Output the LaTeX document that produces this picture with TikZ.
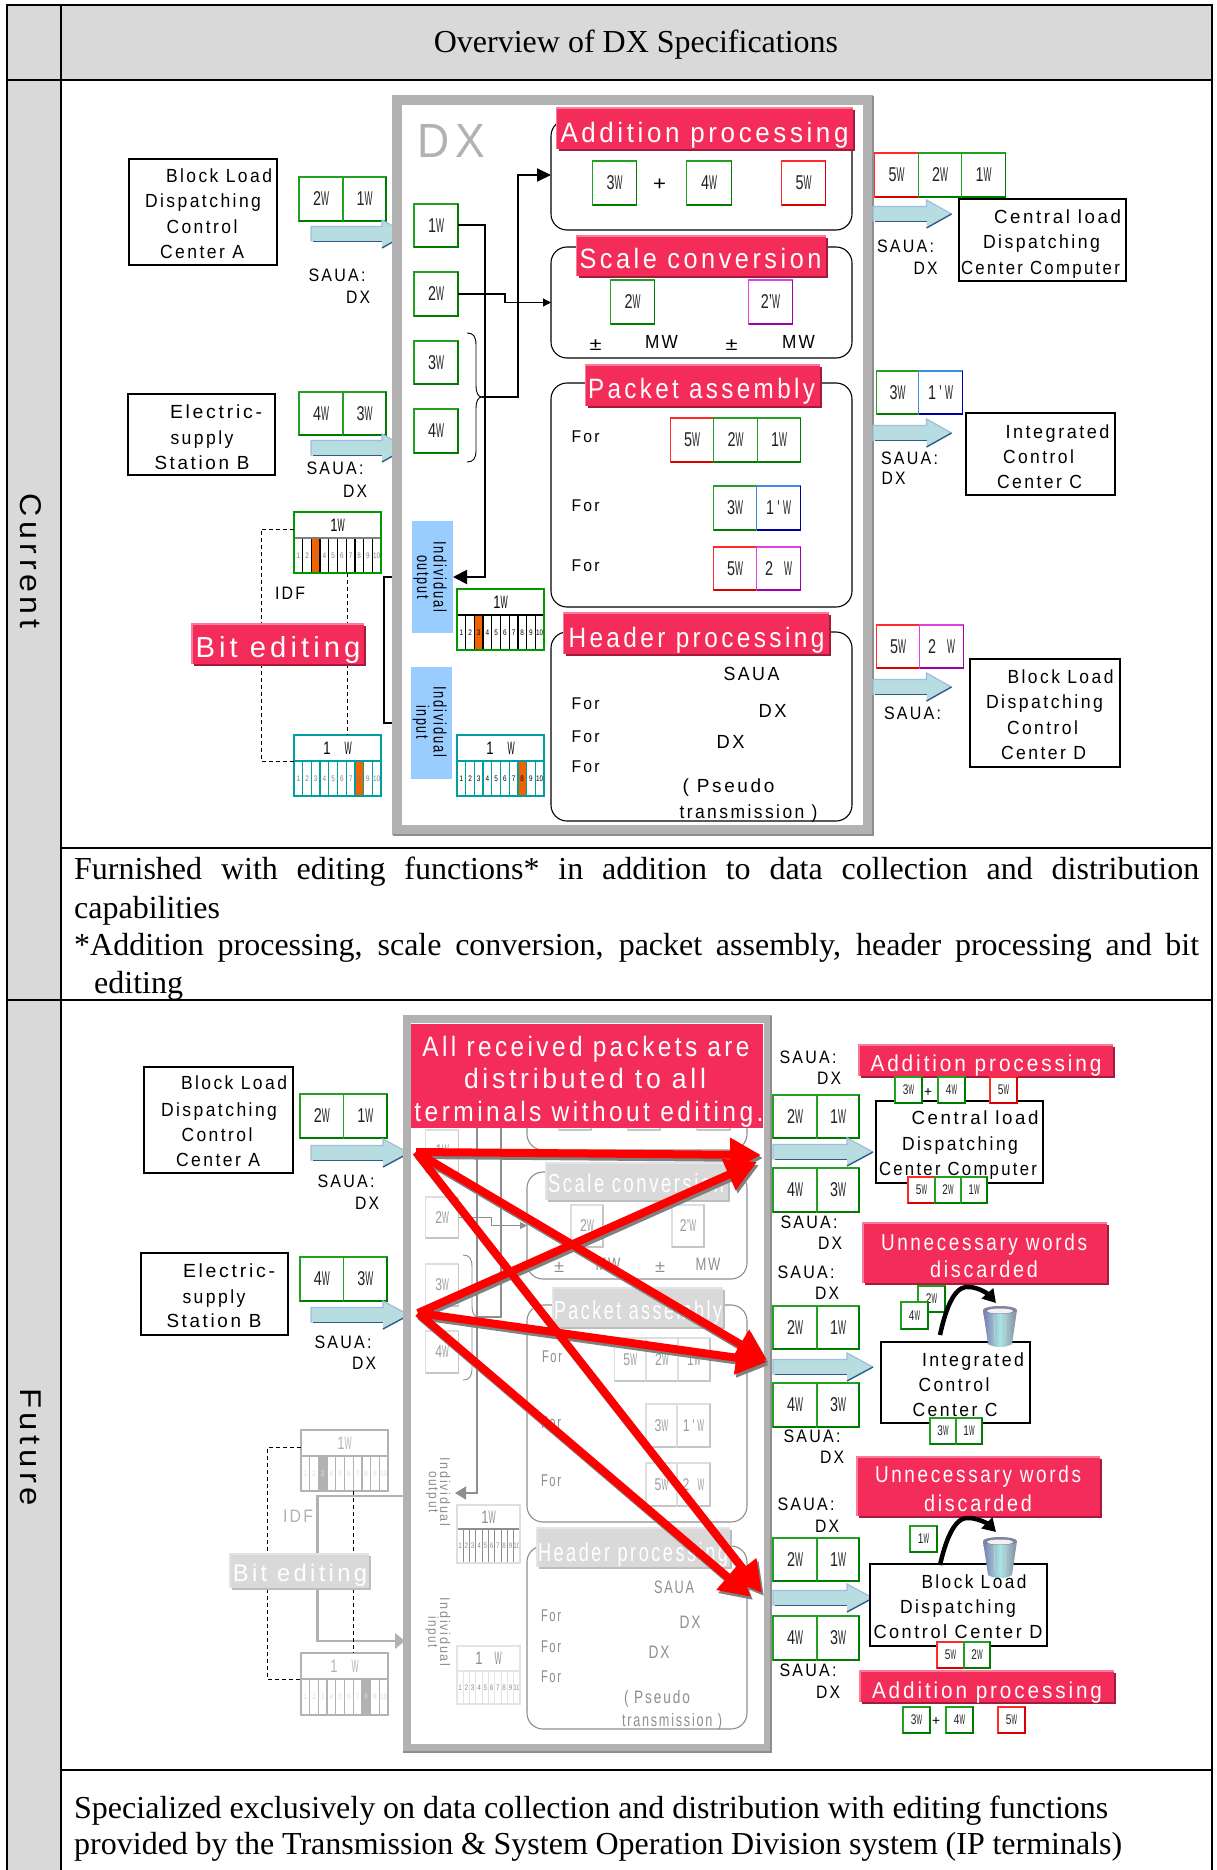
\documentclass[tikz,border=0pt]{standalone}
\usepackage{fontspec}
\setmainfont{Liberation Serif}
\newfontfamily\lsf[LetterSpace=14]{Liberation Sans}
\newfontfamily\lsn{Liberation Sans}
\usetikzlibrary{arrows.meta,calc}
\definecolor{cellG}{HTML}{D9D9D9}
\definecolor{frameG}{HTML}{B2B2B2}
\definecolor{frameD}{HTML}{8E8E8E}
\definecolor{redF}{HTML}{F32C5A}\definecolor{redL}{HTML}{F97C9A}\definecolor{redD}{HTML}{A31A3D}
\definecolor{gyF}{HTML}{D9D9D9}\definecolor{gyL}{HTML}{E4E4E4}\definecolor{gyD}{HTML}{BDBDBD}
\definecolor{gnL}{HTML}{22A022}\definecolor{gnD}{HTML}{007A00}\definecolor{gnT}{HTML}{222222}
\definecolor{rdL}{HTML}{FF2A2A}\definecolor{rdD}{HTML}{D80000}\definecolor{rdT}{HTML}{222222}
\definecolor{mgL}{HTML}{E040E0}\definecolor{mgD}{HTML}{A000A8}\definecolor{mgT}{HTML}{222222}
\definecolor{blL}{HTML}{3C8CE0}\definecolor{blD}{HTML}{00009A}\definecolor{blT}{HTML}{222222}
\definecolor{ghL}{HTML}{DEDEDE}\definecolor{ghD}{HTML}{C6C6C6}\definecolor{ghT}{HTML}{9C9C9C}
\definecolor{ghostT}{HTML}{8E8E8E}
\definecolor{arrF}{HTML}{B7DDE0}\definecolor{arrT}{HTML}{A0BCDC}\definecolor{arrB}{HTML}{2F5A8A}
\definecolor{indB}{HTML}{99CCFF}
\definecolor{orng}{HTML}{F26300}
\definecolor{teal2}{HTML}{009E9E}
\definecolor{grn2}{HTML}{009A00}
\definecolor{capred}{HTML}{FF0000}
\newcounter{nid}
\newcommand{\wl}[1]{\scalebox{.72}[1]{#1}\scalebox{.42}[1]{W}}
\newcommand{\wg}[2]{\scalebox{.72}[1]{#1}\hspace{#2pt}\scalebox{.42}[1]{W}}
\newcommand{\wq}[1]{\scalebox{.72}[1]{#1}\,\scalebox{.6}[1]{'}\,\scalebox{.42}[1]{W}}
% text line: [colour]{cx}{cy}{width}{size}{text}
\newcommand{\tx}[6][black]{\stepcounter{nid}\pgfmathsetmacro{\by}{#3+0.36*#5}%
 \node[anchor=base,inner sep=0pt,text=#1] (t\thenid) at (#2,\by) {\resizebox{#4pt}{\height}{\lsf\fontsize{#5pt}{#5pt}\selectfont #6}};}
% rotated text line
\newcommand{\rtx}[6][black]{\stepcounter{nid}%
 \node[rotate=-90,inner sep=0pt,text=#1] (q\thenid) at (#2,#3) {\resizebox{#4pt}{\height}{\lsf\fontsize{#5pt}{#5pt}\selectfont #6}};}
% rectangle node: [name]{x1}{y1}{x2}{y2}{style}
\newcommand{\rc}[6][]{\def\tmpn{#1}\ifx\tmpn\empty\stepcounter{nid}\edef\tmpn{r\thenid}\fi
 \pgfmathsetmacro{\rw}{#4-#2}\pgfmathsetmacro{\rh}{#5-#3}\pgfmathsetmacro{\rcx}{(#4+#2)/2}\pgfmathsetmacro{\rcy}{(#5+#3)/2}%
 \node[minimum width=\rw pt,minimum height=\rh pt,inner sep=0pt,outer sep=0pt,#6] (\tmpn) at (\rcx,\rcy) {};}
% word box: [name]{x1}{y1}{x2}{y2}{col}{label}
\def\wfs{20}
\newcommand{\wb}[7][]{\def\tmpn{#1}\ifx\tmpn\empty\stepcounter{nid}\edef\tmpn{w\thenid}\fi
 \pgfmathsetmacro{\rw}{#4-#2}\pgfmathsetmacro{\rh}{#5-#3}\pgfmathsetmacro{\rcx}{(#4+#2)/2}\pgfmathsetmacro{\rcy}{(#5+#3)/2}%
 \node[draw=#6L,line width=1.4pt,fill=white,minimum width=\rw pt,minimum height=\rh pt,inner sep=0pt,outer sep=0pt,text=#6T,font={\lsn\fontsize{\wfs pt}{\wfs pt}\selectfont}] (\tmpn) at (\rcx,\rcy) {#7};
 \draw[#6D,line width=1.7pt] (\tmpn.south west) -- (\tmpn.south east) -- (\tmpn.north east);}
% label band: {x1}{y1}{x2}{y2}{palette}
\newcommand{\rl}[5]{\fill[#5D] ($(#1,#2)+(2,2)$) rectangle ($(#3,#4)+(2,2)$);
 \rc{#1}{#2}{#3}{#4}{fill=#5F}
 \draw[#5L,line width=1.6pt] (#1,#4) -- (#1,#2) -- (#3,#2);}
% block arrow {x1}{xh}{xt}{yc}
\newcommand{\ba}[4]{\fill[arrF] ($(#1,#4)+(0,-7.5)$) -- ($(#2,#4)+(0,-7.5)$) -- ($(#2,#4)+(0,-14)$) -- (#3,#4) -- ($(#2,#4)+(0,14)$) -- ($(#2,#4)+(0,7.5)$) -- ($(#1,#4)+(0,7.5)$) -- cycle;
 \draw[arrT,line width=1.2pt] ($(#1,#4)+(0,7.5)$) -- ($(#1,#4)+(0,-7.5)$) -- ($(#2,#4)+(0,-7.5)$) -- ($(#2,#4)+(0,-14)$) -- (#3,#4);
 \draw[arrB,line width=1.2pt] ($(#1,#4)+(2,7.5)$) -- ($(#2,#4)+(0,7.5)$);
 \draw[arrB,line width=1.4pt] (#3,#4) -- ($(#2,#4)+(0,14)$);}
% brace {x}{y1}{ym}{y2}
\newcommand{\brc}[5][black]{\draw[#1,line width=.9pt] ($(#2,#3)$) .. controls ($(#2,#3)+(6,0)$) and ($(#2,#3)+(9,3)$) .. ($(#2,#3)+(9,12)$) -- ($(#2,#4)+(9,-12)$) .. controls ($(#2,#4)+(9,-4)$) and ($(#2,#4)+(11,0)$) .. ($(#2,#4)+(15,0)$) .. controls ($(#2,#4)+(11,0)$) and ($(#2,#4)+(9,4)$) .. ($(#2,#4)+(9,12)$) -- ($(#2,#5)+(9,-12)$) .. controls ($(#2,#5)+(9,-3)$) and ($(#2,#5)+(6,0)$) .. ($(#2,#5)$);}
% grid: settings then [name]{x1}{y1}{x2}{ydiv}{y2}{cell}{label}
\def\gB{grn2}\def\gBw{2.4}\def\gD{black}\def\gDw{1.3}\def\gHL{orng}\def\gN{gray}\def\gT{black}\def\gHd{black}
\newcommand{\grid}[8][]{\pgfmathsetmacro{\cw}{(#4-#2)/10}\pgfmathsetmacro{\hx}{#2+(#7-1)*\cw}\pgfmathsetmacro{\hxb}{\hx+\cw}%
 \rc[#1]{#2}{#3}{#4}{#6}{fill=white}
 \fill[\gHL] (\hx,#5) rectangle (\hxb,#6);
 \foreach \ii in {1,...,10} {\pgfmathsetmacro{\nx}{#2+(\ii-.5)*\cw}\stepcounter{nid}
   \node[inner sep=0pt,text=\gN,font={\lsn\fontsize{8pt}{8pt}\selectfont}] (g\thenid) at (\nx,{(#5+#6)/2}) {\scalebox{.8}[1]{\ii}};}
 \foreach \ii in {1,...,9} {\pgfmathsetmacro{\nx}{#2+\ii*\cw}\draw[\gD,line width=\gDw pt] (\nx,#5) -- (\nx,#6);}
 \draw[\gHd,line width=1.2pt] (#2,#5) -- (#4,#5);
 \draw[\gB,line width=\gBw pt] (#2,#3) rectangle (#4,#6);
 \stepcounter{nid}\node[inner sep=0pt,text=\gT,font={\lsn\fontsize{18pt}{18pt}\selectfont}] (h\thenid) at ({(#2+#4)/2},{(#3+#5)/2}) {#8};}
\newcommand{\trash}[2]{\shade[left color=white!45!blue!35!gray,right color=white!65!blue!25!gray,middle color=white!70!cyan!80!gray] ($(#1,#2)+(-17,-17)$) -- ($(#1,#2)+(17,-17)$) -- ($(#1,#2)+(12,17)$) .. controls ($(#1,#2)+(6,21)$) and ($(#1,#2)+(-6,21)$) .. ($(#1,#2)+(-12,17)$) -- cycle;
 \fill[white!55!blue!25!gray] ($(#1,#2)+(0,-17)$) ellipse (17pt and 4pt);
 \fill[white!90!gray] ($(#1,#2)+(0,-16)$) ellipse (13pt and 2.5pt);
 \draw[white!60!gray,line width=.8pt] ($(#1,#2)+(-6,-12)$) -- ($(#1,#2)+(-5,15)$) ($(#1,#2)+(6,-12)$) -- ($(#1,#2)+(5,15)$);}
\tikzset{
 thkline/.style={line width=2pt,black},
 boxk/.style={draw=black,line width=2pt,fill=white},
 roundb/.style={draw=#1,line width=1.1pt,rounded corners=16pt},
 redarr/.style={line width=8pt,capred,-{Triangle[length=31pt,width=32pt]}},
 redshd/.style={line width=8pt,gray,-{Triangle[length=31pt,width=32pt]}}
}
\begin{document}
\begin{tikzpicture}[x=1pt,y=-1pt]
\useasboundingbox (0,0) rectangle (1217,1870);
\fill[white] (0,0) rectangle (1217,1870);
% table
\fill[cellG] (7,5) rectangle (1212,80);
\fill[cellG] (7,5) rectangle (61,1870);
\draw[black,line width=1.3pt] (7,1870) -- (7,5) -- (1212,5) -- (1212,1870);
\draw[black,line width=1.3pt] (61,5) -- (61,1870);
\draw[black,line width=1.3pt] (7,80) -- (1212,80);
\draw[black,line width=1.3pt] (61,848) -- (1212,848);
\draw[black,line width=1.3pt] (7,1000) -- (1212,1000);
\draw[black,line width=1.3pt] (61,1770) -- (1212,1770);
\node[inner sep=0pt,anchor=base] (title) at (636,53) {\fontsize{32pt}{32pt}\selectfont Overview of DX Specifications};
\node[rotate=-90,inner sep=0pt] (curr) at (31,561) {\resizebox{134pt}{\height}{\lsf\fontsize{30pt}{30pt}\selectfont Current}};
\node[rotate=-90,inner sep=0pt] (futu) at (31,1447) {\resizebox{118pt}{\height}{\lsf\fontsize{30pt}{30pt}\selectfont Future}};
\node[anchor=base west,inner sep=0pt] (cl1) at (74,879) {\fontsize{32pt}{32pt}\selectfont\makebox[1125pt][s]{Furnished with editing functions* in addition to data collection and distribution}};
\node[anchor=base west,inner sep=0pt] (cl2) at (74,918) {\fontsize{32pt}{32pt}\selectfont capabilities};
\node[anchor=base west,inner sep=0pt] (cl3) at (74,955) {\fontsize{32pt}{32pt}\selectfont\makebox[1125pt][s]{*Addition processing, scale conversion, packet assembly, header processing and bit}};
\node[anchor=base west,inner sep=0pt] (cl4) at (94,993) {\fontsize{32pt}{32pt}\selectfont editing};
\node[anchor=base west,inner sep=0pt] (fl1) at (74,1818) {\fontsize{32pt}{32pt}\selectfont\makebox[1034pt][s]{Specialized exclusively on data collection and distribution with editing functions}};
\node[anchor=base west,inner sep=0pt] (fl2) at (74,1854) {\fontsize{32pt}{32pt}\selectfont\makebox[1048pt][s]{provided by the Transmission \& System Operation Division system (IP terminals)}};
%% ======= CURRENT =======
\rc[cA]{129}{159}{277}{265}{boxk}
\tx{219}{176}{106}{19}{Block Load}\tx{203}{201}{116}{19}{Dispatching}\tx{202}{227}{71}{19}{Control}\tx{202}{252}{84}{19}{Center A}
\wb{299}{177}{343}{221}{gn}{\wl{2}}\wb{343}{177}{386}{221}{gn}{\wl{1}}
\ba{311}{382}{407}{234}
\tx{337}{275}{57}{18}{SAUA:}\tx{358}{297}{24}{18}{DX}
\rc[cB]{128}{394}{275}{475}{boxk}
\tx{216}{412}{92}{19}{Electric-}\tx{202}{438}{63}{19}{supply}\tx{202}{463}{95}{19}{Station B}
\wb{299}{392}{343}{435}{gn}{\wl{4}}\wb{343}{392}{386}{435}{gn}{\wl{3}}
\ba{311}{382}{407}{448}
\tx{335}{468}{57}{18}{SAUA:}\tx{355}{491}{24}{18}{DX}
% bracket behind frame
\coordinate (brT) at (397,577);\coordinate (brB) at (397,723);
\draw[thkline] (brT) -- ++(-13,0) |- (brB);
% bit editing outside
\coordinate (d1a) at (261,529);\coordinate (d1b) at (261,761);
\def\gB{grn2}\def\gD{black}\def\gHd{gray}\def\gN{gray}\def\gT{black}
\grid[cgO]{294}{512}{381}{538}{573}{3}{\wl{1}}
\def\gB{teal2}\def\gD{teal2}\def\gHd{teal2}
\grid[cgI]{294}{735}{381}{761}{796}{8}{\wg{1}{14}}
\draw[black,line width=1pt,dash pattern=on 4pt off 3pt] (cgO.west |- d1a) -- (d1a) -- (d1b) -- (cgI.west |- d1b);
\draw[black,line width=1pt,dash pattern=on 4pt off 3pt] (347,573) -- (347,735);
\tx{290}{593}{30}{18}{IDF}
\rl{192}{624}{364}{664}{red}
\tx[white]{278}{647}{165}{29}{Bit editing}
% frame
\rc[cFr]{397}{100}{868}{830}{draw=frameG,line width=10pt,fill=white}
\draw[frameD,line width=1.5pt] (393,835) -- (873,835) -- (873,96);
\tx[frameG]{451}{140}{68}{48}{DX}
\def\wfs{20}
\wb[c1w]{414}{204}{458}{247}{gn}{\wl{1}}
\wb[c2w]{414}{272}{458}{316}{gn}{\wl{2}}
\wb[c3w]{414}{341}{458}{384}{gn}{\wl{3}}
\wb[c4w]{414}{409}{458}{453}{gn}{\wl{4}}
\rc[cAdd]{551}{120}{852}{230}{roundb=black}
\rc[cSca]{551}{247}{852}{358}{roundb=black}
\rc[cPak]{551}{383}{852}{607}{roundb=black}
\rc[cHdr]{551}{632}{852}{821}{roundb=black}
\rc[cio]{412}{521}{453}{633}{fill=indB}
\rc[cii]{411}{667}{452}{779}{fill=indB}
\rtx{440}{577}{71}{18}{Individual}\rtx{421}{577}{44}{18}{output}
\rtx{440}{722}{71}{18}{Individual}\rtx{421}{722}{34}{18}{input}
\brc{467}{333}{397}{462}
\coordinate (cbrTip) at (482,397);
\draw[thkline,-{Triangle[length=14pt,width=13pt]}] (cbrTip) -- ++(36,0) |- (cAdd.west);
\draw[black,line width=1.1pt,-{Triangle[length=8pt,width=8pt]}] (c2w.east) -- ++(47,0) |- (cSca.west);
\draw[thkline,-{Triangle[length=14pt,width=14pt]}] (c1w.east) -- ++(27,0) |- (cio.east);
\def\gB{grn2}\def\gD{black}\def\gHd{black}\def\gN{black}
\grid[cgO2]{457}{589}{544}{615}{650}{3}{\wl{1}}
\def\gB{teal2}\def\gD{teal2}\def\gHd{teal2}
\grid[cgI2]{457}{735}{544}{761}{796}{8}{\wg{1}{14}}
\begin{scope}[xshift=-1.5pt]
% Addition
\rl{558}{108}{854}{149}{red}\tx[white]{706}{132}{288}{28}{Addition processing}
\wb{594}{161}{638}{205}{gn}{\wl{3}}\tx{661}{183}{13}{20}{+}\wb{688}{161}{733}{205}{gn}{\wl{4}}\wb{783}{161}{827}{205}{rd}{\wl{5}}
% Scale
\rl{578}{236}{827}{276}{red}\tx[white]{702}{258}{242}{28}{Scale conversion}
\wb{612}{280}{656}{324}{gn}{\wl{2}}\wb{750}{280}{794}{324}{mg}{\scalebox{.72}[1]{2’}\scalebox{.42}[1]{W}}
\tx{597}{344}{12}{18}{±}\tx{663}{342}{33}{19}{MW}\tx{733}{344}{12}{18}{±}\tx{800}{342}{33}{19}{MW}
% Packet
\rl{587}{365}{821}{406}{red}\tx[white]{703}{388}{227}{28}{Packet assembly}
\tx{587}{436}{28}{17}{For}
\wb{672}{418}{715}{462}{rd}{\wl{5}}\wb{715}{418}{759}{462}{gn}{\wl{2}}\wb{759}{418}{802}{462}{gn}{\wl{1}}
\tx{587}{505}{28}{17}{For}
\wb{715}{486}{758}{530}{gn}{\wl{3}}\wb{758}{486}{802}{530}{bl}{\wq{1}}
\tx{587}{565}{28}{17}{For}
\wb{715}{547}{758}{590}{rd}{\wl{5}}\wb{758}{547}{802}{590}{mg}{\wg{2}{11}}
% Header
\rl{565}{613}{830}{654}{red}\tx[white]{698}{637}{256}{28}{Header processing}
\tx{753}{674}{56}{19}{SAUA}\tx{587}{703}{28}{17}{For}\tx{774}{711}{28}{19}{DX}\tx{587}{736}{28}{17}{For}\tx{732}{742}{28}{19}{DX}\tx{587}{766}{28}{17}{For}
\tx{730}{786}{92}{19}{( Pseudo}\tx{750}{812}{138}{19}{transmission )}
\end{scope}
% right
\begin{scope}[xshift=-2.5pt]
\wb{877}{153}{921}{197}{rd}{\wl{5}}\wb{921}{153}{964}{197}{gn}{\wl{2}}\wb{964}{153}{1008}{197}{gn}{\wl{1}}
\ba{875.5}{929}{954}{214}
\tx{908}{246}{57}{18}{SAUA:}\tx{928}{268}{24}{18}{DX}
\rc[cCC]{961}{199}{1128}{281}{boxk}
\tx{1060}{217}{127}{19}{Central load}\tx{1044}{242}{117}{19}{Dispatching}\tx{1043}{268}{159}{19}{Center Computer}
\wb{879}{371}{921}{414}{gn}{\wl{3}}\wb{921}{371}{965}{414}{bl}{\wq{1}}
\ba{875.5}{929}{954}{433}
\tx{912}{458}{57}{18}{SAUA:}\tx{896}{478}{24}{18}{DX}
\rc[cIC]{968}{413}{1117}{495}{boxk}
\tx{1060}{432}{104}{19}{Integrated}\tx{1041}{457}{71}{19}{Control}\tx{1042}{482}{85}{19}{Center C}
\wb{879}{625}{922}{668}{rd}{\wl{5}}\wb{922}{625}{966}{668}{mg}{\wg{2}{11}}
\ba{875.5}{929}{954}{687}
\tx{915}{713}{57}{18}{SAUA:}
\rc[cBD]{972}{659}{1122}{767}{boxk}
\tx{1063}{677}{106}{19}{Block Load}\tx{1047}{702}{117}{19}{Dispatching}\tx{1045}{728}{71}{19}{Control}\tx{1046}{753}{85}{19}{Center D}
\end{scope}
%% ======= FUTURE =======
\rc[fA]{144}{1067}{293}{1173}{boxk}
\tx{234}{1083}{106}{19}{Block Load}\tx{219}{1110}{116}{19}{Dispatching}\tx{217}{1135}{71}{19}{Control}\tx{218}{1160}{84}{19}{Center A}
\wb{300}{1094}{343.5}{1138}{gn}{\wl{2}}\wb{343.5}{1094}{387}{1138}{gn}{\wl{1}}
\ba{311}{383}{409}{1153}
\tx{346}{1181}{57}{18}{SAUA:}\tx{367}{1203}{24}{18}{DX}
\rc[fB]{141}{1253}{288}{1335}{boxk}
\tx{229}{1271}{92}{19}{Electric-}\tx{214}{1297}{63}{19}{supply}\tx{214}{1321}{95}{19}{Station B}
\wb{300}{1257}{343.5}{1301}{gn}{\wl{4}}\wb{343.5}{1257}{387}{1301}{gn}{\wl{3}}
\ba{311}{383}{409}{1315}
\tx{343}{1342}{57}{18}{SAUA:}\tx{364}{1363}{24}{18}{DX}
% ghost bit editing outside
\coordinate (gbT) at (407,1496);\coordinate (gbB) at (395,1641);
\draw[frameG,line width=2.5pt] (gbT) -- ++(-89.5,0) |- (gbB);
\fill[frameG] (395,1633) -- (405,1641) -- (395,1649) -- cycle;
\coordinate (fd1a) at (267.5,1447);\coordinate (fd1b) at (267.5,1679);
\def\gB{frameG}\def\gBw{2.6}\def\gD{frameG}\def\gHd{frameG}\def\gN{ghL}\def\gHL{frameG}\def\gT{frameG}
\grid[fgO]{301}{1430}{388}{1456}{1491}{3}{\wl{1}}
\grid[fgI]{301}{1653}{388}{1679}{1715}{8}{\wg{1}{14}}
\draw[black,line width=1pt,dash pattern=on 4pt off 3pt] (fgO.west |- fd1a) -- (fd1a) -- (fd1b) -- (fgI.west |- fd1b);
\draw[black,line width=1pt,dash pattern=on 4pt off 3pt] (353.6,1491) -- (353.6,1653);
\tx[frameG]{298}{1516}{30}{18}{IDF}
\rl{230}{1554}{369}{1588}{gy}
\tx[white]{300}{1573}{134}{24}{Bit editing}
% future frame
\rc[fFr]{407}{1019}{767.5}{1748}{draw=frameG,line width=8pt,fill=white}
\draw[frameD,line width=1.5pt] (403,1752) -- (771,1752) -- (771,1016);
\def\wfs{17}
\wb[f1w]{425.5}{1130}{458.6}{1172}{gh}{\wl{1}}
\wb[f2w]{425.5}{1197}{458.6}{1238}{gh}{\wl{2}}
\wb[f3w]{425.5}{1264}{458.6}{1306}{gh}{\wl{3}}
\wb[f4w]{425.5}{1331}{458.6}{1373}{gh}{\wl{4}}
\rc[fAdd]{527}{1040}{747}{1150}{roundb=ghostT}
\rc[fSca]{527}{1172}{747}{1279}{roundb=ghostT}
\rc[fPak]{527}{1305}{747}{1522}{roundb=ghostT}
\rc[fHdr]{527}{1546}{747}{1729}{roundb=ghostT}
\wb{559}{1090}{591}{1130}{gh}{\wl{3}}\wb{628}{1090}{660}{1130}{gh}{\wl{4}}\wb{697}{1090}{730}{1130}{gh}{\wl{5}}
\brc[ghostT]{463}{1255}{1317}{1380}
\coordinate (fbrTip) at (478,1317);\coordinate (fvT) at (501,1125);
\draw[ghostT,line width=1.4pt] (fbrTip) -- (fvT |- fbrTip) -- (fvT);
\coordinate (fioC) at (455,1493);\coordinate (fvT2) at (477,1125);
\draw[ghostT,line width=1.4pt,-{Triangle[length=11pt,width=13pt]}] (fvT2) -- (fvT2 |- fioC) -- (fioC);
\draw[ghostT,line width=1pt,-{Triangle[length=7pt,width=7pt]}] (f2w.east) -- ++(32.4,0) |- (fSca.west);
\def\gB{ghL}\def\gBw{1.6}\def\gD{ghostT}\def\gDw{1}\def\gHd{ghostT}\def\gN{ghostT}\def\gHL{white}\def\gT{ghostT}
\grid[fgO2]{457}{1505}{520}{1529}{1563}{1}{\wl{1}}
\def\gB{gyL}\def\gD{gyL}\def\gHd{gyL}
\grid[fgI2]{457}{1646}{520}{1671}{1704}{1}{\wg{1}{12}}
\rtx[ghostT]{445}{1492}{69}{14}{Individual}\rtx[ghostT]{432}{1492}{42}{14}{output}
\rtx[ghostT]{445}{1632}{69}{14}{Individual}\rtx[ghostT]{432}{1632}{32}{14}{input}
\rl{546}{1163}{728}{1200}{gy}\tx[white]{636}{1183}{176}{26}{Scale conversion}
\wb{571}{1205}{603}{1247}{gh}{\wl{2}}\wb{672}{1205}{704}{1247}{gh}{\scalebox{.72}[1]{2’}\scalebox{.42}[1]{W}}
\tx[ghostT]{559}{1266}{10}{17}{±}\tx[ghostT]{608}{1264}{25}{18}{MW}\tx[ghostT]{660}{1266}{10}{17}{±}\tx[ghostT]{708}{1264}{25}{18}{MW}
\rl{553}{1288}{723}{1327}{gy}\tx[white]{638}{1310}{168}{26}{Packet assembly}
\tx[ghostT]{552}{1356}{20}{17}{For}
\wb{614.5}{1338}{646}{1381}{gh}{\wl{5}}\wb{646}{1338}{678}{1381}{gh}{\wl{2}}\wb{678}{1338}{710}{1381}{gh}{\wl{1}}
\tx[ghostT]{551}{1422}{20}{17}{For}
\wb{646}{1404}{677}{1447}{gh}{\wl{3}}\wb{677}{1404}{710}{1447}{gh}{\wq{1}}
\tx[ghostT]{551}{1480}{20}{17}{For}
\wb{646}{1463}{677}{1506}{gh}{\wl{5}}\wb{677}{1463}{710}{1506}{gh}{\wg{2}{8}}
\rl{537}{1528}{730}{1567}{gy}\tx[white]{633}{1552}{190}{26}{Header processing}
\tx[ghostT]{674}{1587}{40}{18}{SAUA}\tx[ghostT]{551}{1615}{20}{17}{For}\tx[ghostT]{690}{1622}{21}{18}{DX}\tx[ghostT]{551}{1646}{20}{17}{For}\tx[ghostT]{659}{1652}{21}{18}{DX}\tx[ghostT]{551}{1676}{20}{17}{For}
\tx[ghostT]{657}{1697}{66}{18}{( Pseudo}\tx[ghostT]{672}{1720}{100}{18}{transmission )}
% big label
\rc[fLab]{411}{1024}{763}{1128}{fill=redF}
\tx[white]{586}{1046}{327}{28}{All received packets are}\tx[white]{585}{1078}{242}{28}{distributed to all}\tx[white]{589}{1111}{349}{28}{terminals without editing.}
% red arrows
\coordinate (sA) at (416,1152);\coordinate (sB) at (418,1313);
\coordinate (a1) at (761,1155);\coordinate (a2) at (767,1360);\coordinate (a3) at (762,1593);
\coordinate (b1) at (757,1162);\coordinate (b2) at (767,1362);\coordinate (b3) at (751,1597);
\foreach \s/\e in {sB/b1,sB/b2,sB/b3,sA/a3,sA/a2,sA/a1}{\draw[redshd] ($(\s)+(2,3)$) -- ($(\e)+(2,3)$);}
\foreach \s/\e in {sB/b1,sB/b2,sB/b3,sA/a3,sA/a2,sA/a1}{\draw[redarr] (\s) -- (\e);}
% future right
\def\wfs{20}
\tx{808}{1057}{57}{18}{SAUA:}\tx{829}{1078}{24}{18}{DX}
\wb{773}{1095}{817}{1138}{gn}{\wl{2}}\wb{817}{1095}{859}{1138}{gn}{\wl{1}}
\ba{773}{847}{873}{1152}
\wb{773}{1168}{817}{1212}{gn}{\wl{4}}\wb{817}{1168}{859}{1212}{gn}{\wl{3}}
\tx{809}{1222}{57}{18}{SAUA:}\tx{830}{1243}{24}{18}{DX}
\rc[fCC]{876}{1101}{1043}{1183}{boxk}
\tx{975}{1118}{127}{19}{Central load}\tx{960}{1144}{116}{19}{Dispatching}\tx{958}{1169}{158}{19}{Center Computer}
\rl{859}{1045}{1113}{1076}{red}\tx[white]{986}{1063}{231}{23}{Addition processing}
\def\wfs{14}
\wb{895}{1077}{922}{1103}{gn}{\wl{3}}\tx{928}{1091}{8}{14}{+}\wb{938}{1077}{965}{1103}{gn}{\wl{4}}\wb{990}{1077}{1017}{1103}{rd}{\wl{5}}
\wb{908}{1177}{935}{1203}{rd}{\wl{5}}\wb{935}{1177}{961}{1203}{gn}{\wl{2}}\wb{961}{1177}{987}{1203}{gn}{\wl{1}}
\rl{863}{1223}{1107}{1283}{red}\tx[white]{984}{1242}{206}{23}{Unnecessary words}\tx[white]{984}{1269}{108}{23}{discarded}
\def\wfs{20}
\tx{806}{1272}{57}{18}{SAUA:}\tx{827}{1293}{24}{18}{DX}
\wb{773}{1306}{817}{1349}{gn}{\wl{2}}\wb{817}{1306}{859}{1349}{gn}{\wl{1}}
\ba{773}{847}{873}{1367}
\wb{773}{1383}{817}{1427}{gn}{\wl{4}}\wb{817}{1383}{859}{1427}{gn}{\wl{3}}
\tx{812}{1436}{57}{18}{SAUA:}\tx{832}{1457}{24}{18}{DX}
\def\wfs{14}
\wb{918}{1286}{945}{1312}{gn}{\wl{2}}\wb{901}{1302}{928}{1329}{gn}{\wl{4}}
\rc[fIC]{881}{1342}{1030}{1423}{boxk}
\coordinate (cv1) at (940,1335);\coordinate (cv2) at (996,1303);
\draw[black,line width=4.5pt,-{Triangle[length=13pt,width=15pt]}] (cv1) .. controls (948,1298) and (958,1285) .. (970,1287) .. controls (980,1288) and (988,1294) .. (cv2);
\tx{973}{1360}{102}{19}{Integrated}\tx{954}{1385}{71}{19}{Control}\tx{955}{1410}{85}{19}{Center C}
\trash{1000}{1327}
\wb{930}{1418}{956}{1444}{gn}{\wl{3}}\wb{956}{1418}{982}{1444}{gn}{\wl{1}}
\rl{857}{1457}{1100}{1516}{red}\tx[white]{978}{1474}{206}{23}{Unnecessary words}\tx[white]{978}{1503}{108}{23}{discarded}
\def\wfs{20}
\tx{806}{1504}{57}{18}{SAUA:}\tx{827}{1526}{24}{18}{DX}
\wb{773}{1538}{817}{1581}{gn}{\wl{2}}\wb{817}{1538}{859}{1581}{gn}{\wl{1}}
\ba{773}{847}{873}{1598}
\wb{773}{1616}{817}{1660}{gn}{\wl{4}}\wb{817}{1616}{859}{1660}{gn}{\wl{3}}
\tx{808}{1670}{57}{18}{SAUA:}\tx{828}{1692}{24}{18}{DX}
\def\wfs{14}
\wb{910}{1526}{937}{1552}{gn}{\wl{1}}
\rc[fBD]{870}{1564}{1047}{1646}{boxk}
\coordinate (cv3) at (940,1565);\coordinate (cv4) at (996,1532);
\draw[black,line width=4.5pt,-{Triangle[length=13pt,width=15pt]}] (cv3) .. controls (948,1530) and (958,1516) .. (970,1518) .. controls (980,1519) and (988,1524) .. (cv4);
\trash{1000}{1558}
\tx{974}{1582}{105}{19}{Block Load}\tx{958}{1607}{116}{19}{Dispatching}\tx{958}{1632}{169}{19}{Control Center D}
\wb{937}{1642}{964}{1668}{rd}{\wl{5}}\wb{964}{1642}{990}{1668}{gn}{\wl{2}}
\rl{860}{1671}{1114}{1702}{red}\tx[white]{987}{1690}{230}{23}{Addition processing}
\wb{903}{1707}{930}{1733}{gn}{\wl{3}}\tx{936}{1720}{8}{14}{+}\wb{946}{1707}{973}{1733}{gn}{\wl{4}}\wb{998}{1707}{1025}{1733}{rd}{\wl{5}}
\end{tikzpicture}
\end{document}
